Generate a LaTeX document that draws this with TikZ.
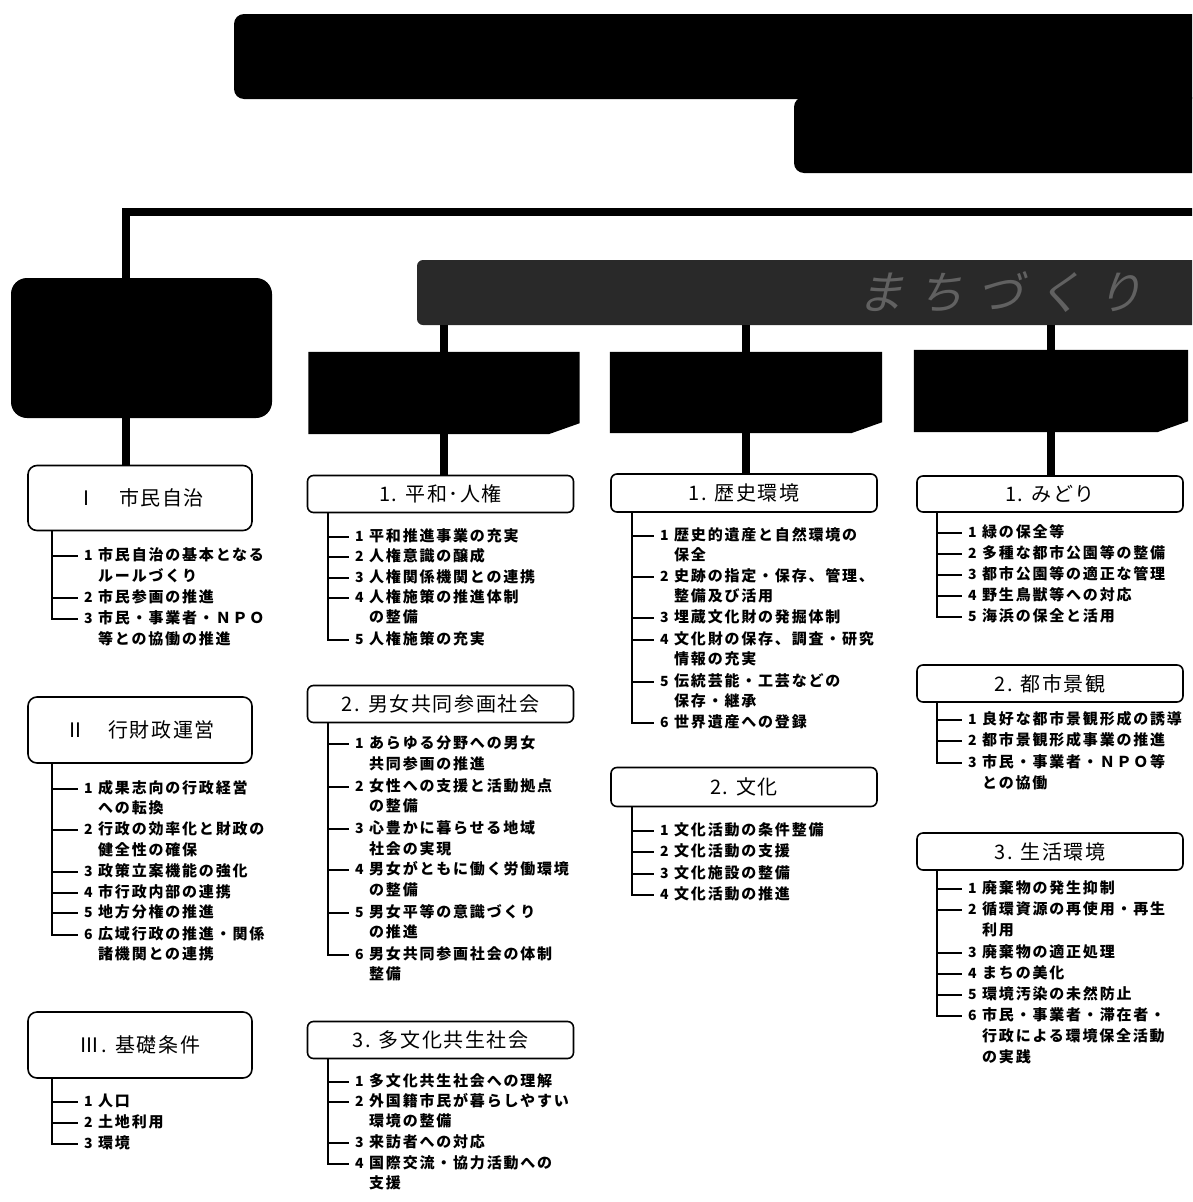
\documentclass[tikz,border=0pt]{standalone}
\usepackage{fontspec}
\newfontfamily\jpT[LetterSpace=8]{Noto Sans CJK JP}
\newfontfamily\jpI[LetterSpace=12]{Noto Sans CJK JP}
\newfontfamily\jpBan[LetterSpace=30,FakeSlant=0.25]{Noto Sans CJK JP}
\usetikzlibrary{calc}
\tikzset{
 bigline/.style={line width=8pt},
 branch/.style={line width=1.8pt},
 blk/.style={fill=black, draw=none, inner sep=0},
 ttl/.style={draw, fill=white, line width=1.6pt, inner sep=0, font=\jpT\fontsize{20}{24}\selectfont},
 ttlA/.style={ttl, rounded corners=9pt, minimum width=224pt, minimum height=65pt},
 ttlB/.style={ttl, rounded corners=6pt, minimum width=266pt, minimum height=37pt},
 num/.style={anchor=west, inner sep=0, text height=11pt, text depth=2.5pt, font=\jpI\bfseries\fontsize{14}{16}\selectfont},
 txt/.style={anchor=west, inner sep=0, text height=11.5pt, text depth=2.5pt, font=\jpI\bfseries\fontsize{15}{18}\selectfont},
 hdr/.style={draw=none, inner sep=0},
}
% #1 parent, #2 name, #3 numx, #4 y, #5 number, #6 text
\newcommand\bitem[6]{%
 \node[num] (#2n) at (#3,#4) {#5};
 \node[txt] (#2) at (#3+14,#4) {#6};
 \draw[branch] (#1.south -| #1x) |- ([xshift=-6pt]#2n.west);
}
% continuation: #1 name, #2 numx, #3 y, #4 text
\newcommand\citem[4]{\node[txt] (#1) at (#2+14,#3) {#4};}
% chamfered black header box
\newcommand\chbox[1]{\fill (#1.north west) -- (#1.north east) -- ([yshift=11pt]#1.south east) -- ([xshift=-31pt]#1.south east) -- (#1.south west) -- cycle;}
\begin{document}
\begin{tikzpicture}[x=1pt,y=-1pt]
\useasboundingbox (0,0) rectangle (1192,1202);
\clip (0,0) rectangle (1192,1202);
\fill[white] (0,0) rectangle (1192,1202);

% title boxes at top
\node[blk, rounded corners=10pt, minimum width=446pt, minimum height=76pt] (T2) at (1017,135) {};
\node[blk, rounded corners=10pt, minimum width=1006pt, minimum height=85pt] (T1) at (737,56.5) {};

% main line
\coordinate (vx) at (126,0);
\coordinate (hr) at (1230,212);
\node[blk, rounded corners=16pt, minimum width=261pt, minimum height=140pt] (L) at (141.5,348) {};
\draw[bigline] (L.north -| vx) -- (vx |- hr) -- (hr);

% banner
\node[blk, fill=black!84, rounded corners=6pt, minimum width=813pt, minimum height=65pt] (B) at (823.5,292.5) {};
\node[inner sep=0, text=black!62, font=\jpBan\fontsize{46}{50}\selectfont] (Btxt) at (1000,292) {まちづくり};

% header boxes
\node[hdr, minimum width=271pt, minimum height=82pt] (h1) at (444,393) {};
\node[hdr, minimum width=272pt, minimum height=81pt] (h2) at (746,392.5) {};
\node[hdr, minimum width=274pt, minimum height=82pt] (h3) at (1051,391) {};
\chbox{h1}\chbox{h2}\chbox{h3}

% category title boxes
\node[ttlA] (t11) at (140,498) {Ⅰ　市民自治};
\node[ttlA, minimum height=66pt] (t12) at (140,730) {Ⅱ　行財政運営};
\node[ttlA, minimum height=66pt] (t13) at (140,1045) {Ⅲ. 基礎条件};
\node[ttlB] (t21) at (440.5,494) {1. 平和･人権};
\node[ttlB] (t22) at (440.5,704) {2. 男女共同参画社会};
\node[ttlB] (t23) at (440.5,1040) {3. 多文化共生社会};
\node[ttlB, minimum height=38pt] (t31) at (744,493) {1. 歴史環境};
\node[ttlB, minimum height=39pt] (t32) at (744,787) {2. 文化};
\node[ttlB, minimum height=36pt] (t41) at (1050,494) {1. みどり};
\node[ttlB, minimum height=37pt] (t42) at (1050,683.5) {2. 都市景観};
\node[ttlB, minimum height=37pt] (t43) at (1050,851.5) {3. 生活環境};

% thick connectors
\draw[bigline] (L.south -| vx) -- (t11.north -| vx);
\draw[bigline] (h1.north) -- (h1.north |- B.south);
\draw[bigline] (h2.north) -- (h2.north |- B.south);
\draw[bigline] (h3.north) -- (h3.north |- B.south);
\draw[bigline] (h1.south) -- (h1.south |- t21.north);
\draw[bigline] (h2.south) -- (h2.south |- t31.north);
\draw[bigline] (h3.south) -- (h3.south |- t41.north);

% branch x positions
\coordinate (t11x) at (52,0);
\coordinate (t12x) at (52,0);
\coordinate (t13x) at (52,0);
\coordinate (t21x) at (328,0);
\coordinate (t22x) at (328,0);
\coordinate (t23x) at (328,0);
\coordinate (t31x) at (632,0);
\coordinate (t32x) at (632,0);
\coordinate (t41x) at (937,0);
\coordinate (t42x) at (937,0);
\coordinate (t43x) at (937,0);

% column 1
\bitem{t11}{a1}{84}{556}{1}{市民自治の基本となる}
\citem{a1b}{84}{577}{ルールづくり}
\bitem{t11}{a2}{84}{598}{2}{市民参画の推進}
\bitem{t11}{a3}{84}{619}{3}{市民・事業者・ＮＰＯ}
\citem{a3b}{84}{640}{等との協働の推進}

\bitem{t12}{b1}{84}{789}{1}{成果志向の行政経営}
\citem{b1b}{84}{809}{への転換}
\bitem{t12}{b2}{84}{830}{2}{行政の効率化と財政の}
\citem{b2b}{84}{851}{健全性の確保}
\bitem{t12}{b3}{84}{872}{3}{政策立案機能の強化}
\bitem{t12}{b4}{84}{893}{4}{市行政内部の連携}
\bitem{t12}{b5}{84}{913}{5}{地方分権の推進}
\bitem{t12}{b6}{84}{935}{6}{広域行政の推進・関係}
\citem{b6b}{84}{955}{諸機関との連携}

\bitem{t13}{c1}{84}{1102}{1}{人口}
\bitem{t13}{c2}{84}{1123}{2}{土地利用}
\bitem{t13}{c3}{84}{1144}{3}{環境}

% column 2
\bitem{t21}{d1}{355}{537}{1}{平和推進事業の充実}
\bitem{t21}{d2}{355}{557}{2}{人権意識の醸成}
\bitem{t21}{d3}{355}{578}{3}{人権関係機関との連携}
\bitem{t21}{d4}{355}{598}{4}{人権施策の推進体制}
\citem{d4b}{355}{618}{の整備}
\bitem{t21}{d5}{355}{640}{5}{人権施策の充実}

\bitem{t22}{e1}{355}{744}{1}{あらゆる分野への男女}
\citem{e1b}{355}{765}{共同参画の推進}
\bitem{t22}{e2}{355}{787}{2}{女性への支援と活動拠点}
\citem{e2b}{355}{807}{の整備}
\bitem{t22}{e3}{355}{829}{3}{心豊かに暮らせる地域}
\citem{e3b}{355}{850}{社会の実現}
\bitem{t22}{e4}{355}{870}{4}{男女がともに働く労働環境}
\citem{e4b}{355}{891}{の整備}
\bitem{t22}{e5}{355}{913}{5}{男女平等の意識づくり}
\citem{e5b}{355}{933}{の推進}
\bitem{t22}{e6}{355}{955}{6}{男女共同参画社会の体制}
\citem{e6b}{355}{975}{整備}

\bitem{t23}{f1}{355}{1082}{1}{多文化共生社会への理解}
\bitem{t23}{f2}{355}{1102}{2}{外国籍市民が暮らしやすい}
\citem{f2b}{355}{1122}{環境の整備}
\bitem{t23}{f3}{355}{1143}{3}{来訪者への対応}
\bitem{t23}{f4}{355}{1164}{4}{国際交流・協力活動への}
\citem{f4b}{355}{1184}{支援}

% column 3
\bitem{t31}{g1}{660}{536}{1}{歴史的遺産と自然環境の}
\citem{g1b}{660}{556}{保全}
\bitem{t31}{g2}{660}{577}{2}{史跡の指定・保存、管理、}
\citem{g2b}{660}{597}{整備及び活用}
\bitem{t31}{g3}{660}{618}{3}{埋蔵文化財の発掘体制}
\bitem{t31}{g4}{660}{640}{4}{文化財の保存、調査・研究}
\citem{g4b}{660}{660}{情報の充実}
\bitem{t31}{g5}{660}{682}{5}{伝統芸能・工芸などの}
\citem{g5b}{660}{702}{保存・継承}
\bitem{t31}{g6}{660}{723}{6}{世界遺産への登録}

\bitem{t32}{k1}{660}{831}{1}{文化活動の条件整備}
\bitem{t32}{k2}{660}{852}{2}{文化活動の支援}
\bitem{t32}{k3}{660}{874}{3}{文化施設の整備}
\bitem{t32}{k4}{660}{895}{4}{文化活動の推進}

% column 4
\bitem{t41}{m1}{968}{533}{1}{緑の保全等}
\bitem{t41}{m2}{968}{554}{2}{多種な都市公園等の整備}
\bitem{t41}{m3}{968}{575}{3}{都市公園等の適正な管理}
\bitem{t41}{m4}{968}{596}{4}{野生鳥獣等への対応}
\bitem{t41}{m5}{968}{617}{5}{海浜の保全と活用}

\bitem{t42}{p1}{968}{720}{1}{良好な都市景観形成の誘導}
\bitem{t42}{p2}{968}{741}{2}{都市景観形成事業の推進}
\bitem{t42}{p3}{968}{763}{3}{市民・事業者・ＮＰＯ等}
\citem{p3b}{968}{784}{との協働}

\bitem{t43}{q1}{968}{889}{1}{廃棄物の発生抑制}
\bitem{t43}{q2}{968}{910}{2}{循環資源の再使用・再生}
\citem{q2b}{968}{931}{利用}
\bitem{t43}{q3}{968}{953}{3}{廃棄物の適正処理}
\bitem{t43}{q4}{968}{974}{4}{まちの美化}
\bitem{t43}{q5}{968}{995}{5}{環境汚染の未然防止}
\bitem{t43}{q6}{968}{1016}{6}{市民・事業者・滞在者・}
\citem{q6b}{968}{1037}{行政による環境保全活動}
\citem{q6c}{968}{1058}{の実践}
\end{tikzpicture}
\end{document}
